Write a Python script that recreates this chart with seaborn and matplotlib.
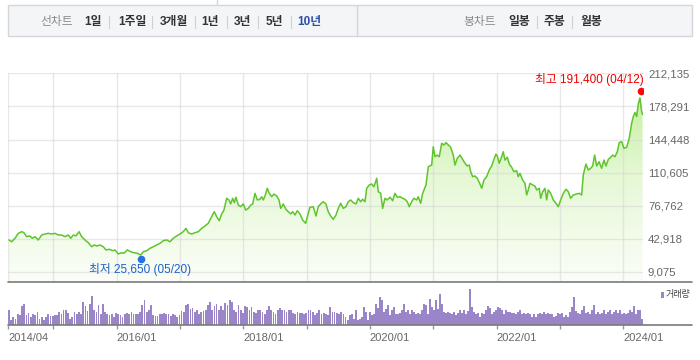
import numpy as np
import matplotlib
matplotlib.use("Agg")
import matplotlib.pyplot as plt
import matplotlib.transforms as mtransforms
from matplotlib.colors import LinearSegmentedColormap
from matplotlib.lines import Line2D
from matplotlib.patches import Rectangle
import seaborn as sns

# 10년 종가 (날짜는 연도 소수 표기, 가격은 원)
years = [
    2014.300, 2014.343, 2014.395, 2014.447, 2014.501, 2014.537, 2014.580, 2014.632, 2014.668, 2014.711,
    2014.763, 2014.817, 2014.869, 2014.921, 2014.975, 2015.027, 2015.079, 2015.133, 2015.185, 2015.237,
    2015.275, 2015.316, 2015.358, 2015.406, 2015.448, 2015.501, 2015.553, 2015.606, 2015.643, 2015.685,
    2015.737, 2015.790, 2015.832, 2015.884, 2015.938, 2015.974, 2016.026, 2016.080, 2016.116, 2016.168,
    2016.222, 2016.274, 2016.326, 2016.380, 2016.421, 2016.475, 2016.527, 2016.579, 2016.633, 2016.685,
    2016.737, 2016.791, 2016.843, 2016.895, 2016.948, 2017.001, 2017.053, 2017.095, 2017.132, 2017.185,
    2017.237, 2017.290, 2017.343, 2017.395, 2017.447, 2017.501, 2017.542, 2017.580, 2017.621, 2017.659,
    2017.695, 2017.738, 2017.774, 2017.801, 2017.833, 2017.858, 2017.885, 2017.921, 2017.959, 2018.000,
    2018.038, 2018.079, 2018.117, 2018.149, 2018.185, 2018.221, 2018.264, 2018.291, 2018.316, 2018.343,
    2018.379, 2018.411, 2018.449, 2018.485, 2018.528, 2018.564, 2018.591, 2018.632, 2018.674, 2018.711,
    2018.749, 2018.780, 2018.816, 2018.853, 2018.895, 2018.938, 2018.985, 2019.026, 2019.053, 2019.105,
    2019.148, 2019.184, 2019.222, 2019.263, 2019.306, 2019.342, 2019.380, 2019.421, 2019.464, 2019.500,
    2019.538, 2019.579, 2019.622, 2019.658, 2019.696, 2019.737, 2019.780, 2019.816, 2019.854, 2019.885,
    2019.922, 2019.949, 2019.990, 2020.028, 2020.064, 2020.107, 2020.132, 2020.170, 2020.201, 2020.238,
    2020.274, 2020.317, 2020.359, 2020.395, 2020.432, 2020.474, 2020.517, 2020.553, 2020.590, 2020.621,
    2020.659, 2020.695, 2020.738, 2020.763, 2020.801, 2020.833, 2020.885, 2020.922, 2020.975, 2021.000,
    2021.027, 2021.063, 2021.095, 2021.133, 2021.169, 2021.201, 2021.237, 2021.275, 2021.316, 2021.343,
    2021.379, 2021.422, 2021.464, 2021.501, 2021.537, 2021.569, 2021.591, 2021.622, 2021.659, 2021.695,
    2021.738, 2021.765, 2021.801, 2021.843, 2021.884, 2021.922, 2021.959, 2021.990, 2022.011, 2022.042,
    2022.080, 2022.105, 2022.132, 2022.169, 2022.200, 2022.238, 2022.274, 2022.317, 2022.342, 2022.369,
    2022.412, 2022.448, 2022.475, 2022.500, 2022.527, 2022.570, 2022.606, 2022.633, 2022.674, 2022.696,
    2022.728, 2022.764, 2022.791, 2022.816, 2022.854, 2022.895, 2022.938, 2022.974, 2023.012, 2023.053,
    2023.096, 2023.132, 2023.170, 2023.211, 2023.264, 2023.306, 2023.343, 2023.369, 2023.411, 2023.448,
    2023.486, 2023.517, 2023.549, 2023.581, 2023.617, 2023.659, 2023.696, 2023.727, 2023.764, 2023.801,
    2023.833, 2023.869, 2023.906, 2023.937, 2023.975, 2024.011, 2024.054, 2024.095, 2024.133, 2024.158,
    2024.185, 2024.212, 2024.238, 2024.264, 2024.291, 2024.305,
]
close = [
    41800, 40000, 43500, 48600, 50300, 49200, 45200, 45900, 43500, 45200,
    41800, 46900, 47900, 48600, 47900, 48600, 46900, 46900, 45200, 46900,
    43500, 46900, 45900, 50300, 45200, 41800, 39000, 34900, 36700, 35600,
    36700, 34900, 31600, 32300, 30800, 31600, 27500, 28800, 28200, 31600,
    29800, 28800, 28200, 26500, 29800, 30800, 33300, 34900, 36700, 38400,
    41100, 41800, 40000, 43500, 45900, 47900, 50300, 53700, 49200, 47900,
    49200, 50300, 53700, 56100, 58800, 65600, 70700, 65600, 61500, 68400,
    72400, 84400, 82700, 78600, 84400, 79900, 85500, 77500, 75800, 78600,
    72400, 74100, 77500, 78600, 89500, 82700, 83400, 86000, 82700, 86700,
    94600, 89500, 86000, 88800, 86700, 82700, 74100, 78600, 73100, 70700,
    68400, 70700, 67300, 71700, 68400, 62200, 58800, 69100, 75200, 75800,
    66300, 75800, 78600, 80900, 78600, 70700, 66300, 62900, 67300, 74100,
    79300, 74100, 75800, 80900, 82700, 79900, 78600, 84400, 80900, 83400,
    80900, 94600, 98000, 99000, 96200, 104800, 91100, 89500, 74100, 84400,
    82700, 85500, 81900, 89500, 85500, 86000, 84400, 83400, 80900, 75800,
    80900, 84400, 82700, 86000, 79300, 89500, 98000, 116700, 118400, 137100,
    126900, 128600, 126900, 140600, 138900, 141300, 138900, 136500, 128600, 118400,
    125200, 128600, 124200, 120200, 117400, 118400, 111600, 106500, 107200, 104800,
    99000, 94600, 103100, 106500, 113300, 117400, 124200, 129500, 127600, 120200,
    126900, 132000, 123500, 126300, 119500, 116100, 111600, 112600, 106500, 109900,
    103100, 99700, 87800, 92900, 99700, 98000, 96900, 92900, 94600, 84400,
    91100, 94600, 82700, 92900, 89500, 82700, 79300, 75800, 82700, 89500,
    93600, 91100, 84400, 87800, 88800, 89500, 87800, 108200, 119500, 113300,
    115100, 117400, 128600, 117400, 121800, 115100, 123500, 117400, 124200, 126300,
    128600, 126900, 132000, 141300, 142300, 135500, 136500, 145700, 161100, 167800,
    172000, 168000, 181000, 187000, 173000, 170000,
]

# 거래량 (상대값) : 2014/04 ~ 2019/09, 2019/09 ~ 2024/04
vol_a = [
    47, 15, 25, 20, 35, 30, 57, 65, 30, 37, 25, 35, 30, 40, 20, 25, 15, 25, 35, 27,
    27, 30, 30, 40, 35, 45, 47, 37, 20, 25, 40, 35, 40, 35, 70, 57, 43, 65, 87, 47,
    40, 60, 35, 65, 40, 35, 30, 35, 25, 37, 35, 30, 25, 35, 37, 35, 40, 33, 35, 35,
    40, 60, 75, 40, 47, 60, 30, 27, 27, 35, 35, 37, 35, 35, 27, 35, 30, 25, 30, 43,
    40, 60, 65, 50, 53, 40, 45, 35, 40, 43, 47, 60, 70, 45, 57, 65, 47, 57, 45, 67,
    60, 77, 70, 45, 40, 60, 45, 37, 57, 55, 47, 55, 40, 37, 45, 45, 40, 35, 45, 57,
    47, 40, 35, 47, 53, 47, 45, 40, 47, 47, 37, 35, 40, 37, 37, 35, 37, 47, 47, 40,
    30, 37, 45, 35, 37, 35, 30, 55, 40, 40, 37, 35, 40, 35, 25, 17,
]
vol_b = [
    30, 35, 20, 45, 17, 20, 25, 55, 40, 15, 40, 30, 35, 65, 53, 85, 75, 40, 50, 60,
    30, 45, 55, 35, 35, 37, 47, 65, 40, 45, 35, 45, 40, 33, 37, 35, 47, 65, 60, 35,
    80, 55, 45, 75, 50, 93, 65, 40, 37, 40, 37, 35, 40, 30, 37, 45, 37, 47, 35, 43,
    108, 55, 40, 35, 37, 25, 37, 35, 47, 57, 53, 35, 40, 47, 55, 53, 45, 35, 45, 40,
    40, 37, 37, 35, 40, 47, 33, 37, 35, 37, 35, 25, 35, 25, 35, 37, 35, 40, 35, 37,
    33, 35, 25, 27, 37, 35, 37, 25, 30, 25, 40, 55, 85, 43, 37, 35, 47, 57, 37, 40,
    35, 47, 60, 35, 40, 35, 37, 47, 35, 40, 45, 35, 40, 47, 37, 45, 35, 37, 35, 37,
    47, 40, 57, 35, 47, 47, 20,
]

y_ticks = [9075, 42918, 76762, 110605, 144448, 178291, 212135]
x_ticks = [2014.29, 2015, 2016, 2017, 2018, 2019, 2020, 2021, 2022, 2023, 2024]
x_labels = ["2014/04", "", "2016/01", "", "2018/01", "", "2020/01", "", "2022/01", "", "2024/01"]

hi_year, hi_val, hi_label = 2024.279, 191400, "최고 191,400 (04/12)"
lo_year, lo_val, lo_label = 2016.383, 25650, "최저 25,650 (05/20)"

range_title = "선차트"
range_tabs = ["1일", "1주일", "3개월", "1년", "3년", "5년", "10년"]
candle_title = "봉차트"
candle_tabs = ["일봉", "주봉", "월봉"]
vol_label = "거래량"

sns.set_theme(style="white")
FONT = ["Liberation Sans", "Noto Sans CJK KR", "DejaVu Sans"]
plt.rcParams["font.family"] = FONT

W, H = 700, 360
fig = plt.figure(figsize=(7, 3.6), dpi=100)
fig.patch.set_facecolor("white")


def fx(px):
    return px / W


def fy(py):
    return 1 - py / H


XMIN, XMAX = 2014.285, 2024.312
YMIN, YMAX = -838, 212135

# ---- price panel
ax = fig.add_axes([fx(8), fy(281.7), fx(643) - fx(8), fy(73.3) - fy(281.7)])
ax.set_xlim(XMIN, XMAX)
ax.set_ylim(YMIN, YMAX)

poly = ax.fill_between(years, close, YMIN, color="none", lw=0)
cmap = LinearSegmentedColormap.from_list("g", ["#fbfef8", "#e6f8d6", "#bdee92"])
grad = np.linspace(0, 1, 256).reshape(-1, 1)
im = ax.imshow(grad, cmap=cmap, origin="lower", aspect="auto",
               extent=[XMIN, XMAX, YMIN, YMAX], zorder=0)
im.set_clip_path(poly.get_paths()[0], transform=ax.transData)

sns.lineplot(x=years, y=close, ax=ax, color="#5ec52c", lw=1.1,
             estimator=None, sort=False, zorder=3)

ax.set_xticks(x_ticks)
ax.set_xticklabels([])
ax.yaxis.tick_right()
ax.set_yticks(y_ticks, [f"{v:,}" for v in y_ticks])
ax.tick_params(axis="both", length=0)
ax.tick_params(axis="y", pad=3.6, labelsize=8.2, labelcolor="#666666")
ax.grid(True, color="#d6d6d6", alpha=0.55, lw=1)
ax.set_axisbelow(True)
for s in ax.spines.values():
    s.set_visible(False)

# 최고 / 최저 표시
hi_tr = mtransforms.offset_copy(ax.transData, fig=fig, x=0, y=3, units="dots")
lo_tr = mtransforms.offset_copy(ax.transData, fig=fig, x=0, y=-3.5, units="dots")
ax.scatter([hi_year], [hi_val], s=30, color="#f20d0d", transform=hi_tr, zorder=5, lw=0)
ax.scatter([lo_year], [lo_val], s=30, color="#2472e0", transform=lo_tr, zorder=5, lw=0)
ax.annotate(hi_label, (hi_year, hi_val), xycoords=hi_tr, xytext=(2.4, 7.7),
            textcoords="offset points", ha="right", va="center",
            fontsize=8.5, color="#f00000", zorder=6)
ax.annotate(lo_label, (lo_year, lo_val), xycoords=lo_tr, xytext=(-0.5, -7.7),
            textcoords="offset points", ha="center", va="center",
            fontsize=8.5, color="#1e60cc", zorder=6)

# ---- volume panel
axv = fig.add_axes([fx(8), fy(325.3), fx(643) - fx(8), fy(285) - fy(325.3)])
vol_years = np.concatenate([np.linspace(2014.300, 2019.650, len(vol_a)),
                            np.linspace(2019.685, 2024.300, len(vol_b))])
axv.bar(vol_years, vol_a + vol_b, width=0.027, color="#9a85c8", lw=0,
        antialiased=False)
axv.set_xlim(XMIN, XMAX)
axv.set_ylim(0, 121)
axv.set_yticks([])
axv.set_xticks(x_ticks, x_labels)
for lab in axv.get_xticklabels():
    lab.set_horizontalalignment("left")
axv.tick_params(axis="x", length=3, width=1, color="#999999", pad=2.6,
                labelsize=8, labelcolor="#666666", bottom=True)
axv.patch.set_alpha(0)
for s in axv.spines.values():
    s.set_visible(False)

fig.add_artist(Rectangle((fx(660.7), fy(298.3)), fx(3.5), fy(291.7) - fy(298.3),
                         transform=fig.transFigure, color="#9a85c8", lw=0))
fig.text(fx(665.5), fy(295), vol_label, fontsize=6.5, color="#444444",
         ha="left", va="center")

# 기준선
for py in (281.7, 325.3):
    fig.add_artist(Line2D([fx(8), fx(692)], [fy(py), fy(py)], color="#7a7a7a",
                          lw=1.2, transform=fig.transFigure))

# ---- header
fig.add_artist(Rectangle((fx(7.5), fy(36)), fx(692) - fx(7.5), fy(5) - fy(36),
                         transform=fig.transFigure, facecolor="#f4f5f7",
                         edgecolor="#d3d6db", lw=1))
fig.add_artist(Line2D([fx(357), fx(357)], [fy(5), fy(36)], color="#d3d6db", lw=1,
                      transform=fig.transFigure))
fig.add_artist(Line2D([fx(216.7), fx(216.7)], [fy(0), fy(5)], color="#d3d6db", lw=1,
                      transform=fig.transFigure))

HY = 21.7
range_x = [93, 132, 174, 210, 242, 274.5, 309.7]
range_sep = [109, 151.7, 195, 226.7, 258, 291]
candle_x = [519, 554, 591]
candle_sep = [537, 571.7]

fig.text(fx(56.7), fy(HY), range_title, fontsize=8.5, color="#8a8a8a", ha="center", va="center")
for i, (t, x) in enumerate(zip(range_tabs, range_x)):
    c = "#2b4ea6" if i == len(range_tabs) - 1 else "#333333"
    fig.text(fx(x), fy(HY), t, fontsize=8.5, color=c, weight="bold", ha="center", va="center")
fig.text(fx(480), fy(HY), candle_title, fontsize=8.5, color="#8a8a8a", ha="center", va="center")
for t, x in zip(candle_tabs, candle_x):
    fig.text(fx(x), fy(HY), t, fontsize=8.5, color="#333333", weight="bold", ha="center", va="center")
for x in range_sep + candle_sep:
    fig.add_artist(Line2D([fx(x), fx(x)], [fy(16), fy(27.5)], color="#d0d0d0", lw=0.8,
                          transform=fig.transFigure))

fig.savefig("out.png", dpi=100)
